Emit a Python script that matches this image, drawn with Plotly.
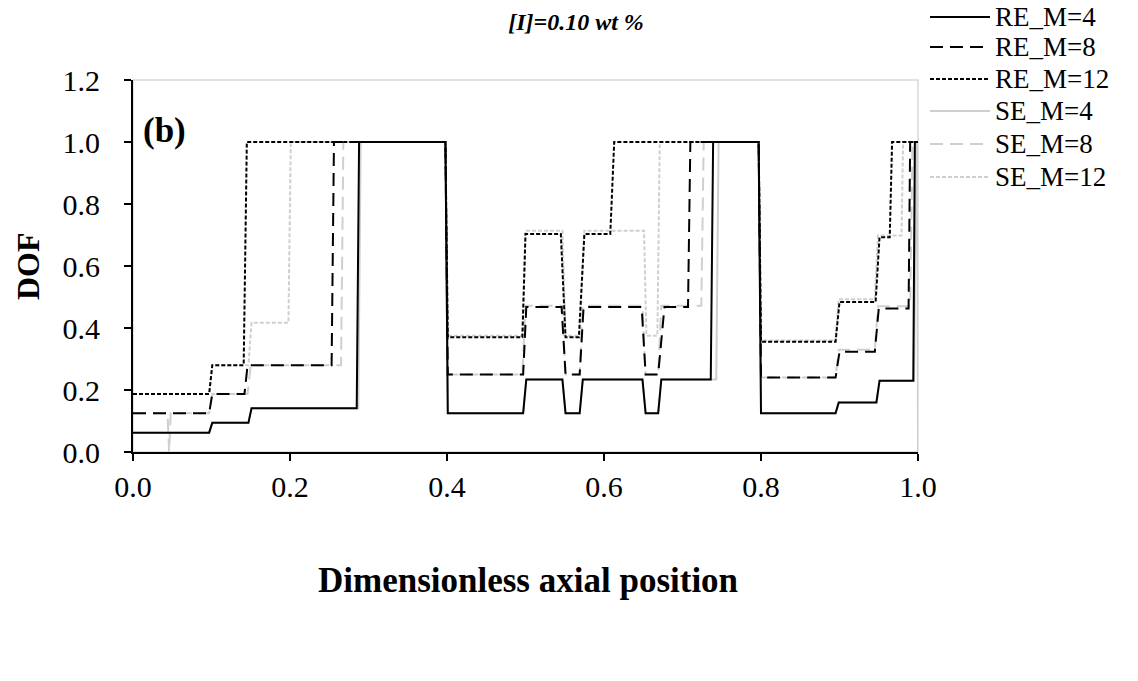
import plotly.graph_objects as go

# ---------------- data ----------------
re4_x = [0, 0.097, 0.101, 0.147, 0.151, 0.285, 0.288, 0.398, 0.401, 0.497, 0.501, 0.547, 0.551, 0.569, 0.573,
         0.649, 0.653, 0.669, 0.673, 0.736, 0.739, 0.797, 0.800, 0.895, 0.899, 0.947, 0.951, 0.994, 0.996, 1.0]
re4_y = [0.0625, 0.0625, 0.094, 0.094, 0.141, 0.141, 1.0, 1.0, 0.125, 0.125, 0.234, 0.234, 0.125, 0.125, 0.234,
         0.234, 0.125, 0.125, 0.234, 0.234, 1.0, 1.0, 0.125, 0.125, 0.16, 0.16, 0.23, 0.23, 1.0, 1.0]

re8_x = [0, 0.097, 0.101, 0.142, 0.146, 0.253, 0.256, 0.398, 0.401, 0.497, 0.501, 0.546, 0.551, 0.569, 0.574,
         0.648, 0.653, 0.669, 0.677, 0.707, 0.710, 0.797, 0.800, 0.895, 0.900, 0.945, 0.950, 0.988, 0.990, 1.0]
re8_y = [0.125, 0.125, 0.1875, 0.1875, 0.28, 0.28, 1.0, 1.0, 0.25, 0.25, 0.4675, 0.4675, 0.25, 0.25, 0.4675,
         0.4675, 0.25, 0.25, 0.4675, 0.4675, 1.0, 1.0, 0.24, 0.24, 0.323, 0.323, 0.463, 0.463, 1.0, 1.0]

re12_x = [0, 0.097, 0.101, 0.141, 0.145, 0.398, 0.401, 0.496, 0.500, 0.545, 0.551, 0.568, 0.575, 0.608, 0.613,
          0.797, 0.800, 0.895, 0.900, 0.946, 0.951, 0.964, 0.967, 0.990, 1.0]
re12_y = [0.1875, 0.1875, 0.28, 0.28, 1.0, 1.0, 0.37, 0.37, 0.703, 0.703, 0.37, 0.37, 0.703, 0.703, 1.0,
          1.0, 0.356, 0.356, 0.484, 0.484, 0.693, 0.693, 1.0, 1.0, 1.0]

se4_x = [0, 0.097, 0.101, 0.147, 0.151, 0.287, 0.290, 0.398, 0.401, 0.497, 0.501, 0.547, 0.551, 0.569, 0.573,
         0.649, 0.653, 0.669, 0.673, 0.743, 0.746, 0.797, 0.800, 0.895, 0.899, 0.947, 0.951, 0.995, 0.998, 0.999, 1.0]
se4_y = [0.0625, 0.0625, 0.094, 0.094, 0.141, 0.141, 1.0, 1.0, 0.125, 0.125, 0.234, 0.234, 0.125, 0.125, 0.234,
         0.234, 0.125, 0.125, 0.234, 0.234, 1.0, 1.0, 0.125, 0.125, 0.16, 0.16, 0.23, 0.23, 1.0, 1.0, 0.0]

se8_x = [0, 0.044, 0.046, 0.048, 0.097, 0.101, 0.146, 0.150, 0.265, 0.268, 0.398, 0.401, 0.496, 0.500, 0.547,
         0.551, 0.569, 0.573, 0.649, 0.653, 0.669, 0.673, 0.724, 0.727, 0.797, 0.800, 0.895, 0.899, 0.945, 0.949,
         0.990, 0.993, 1.0]
se8_y = [0.125, 0.125, 0.0, 0.125, 0.125, 0.1875, 0.1875, 0.28, 0.28, 1.0, 1.0, 0.25, 0.25, 0.472, 0.472,
         0.25, 0.25, 0.472, 0.472, 0.25, 0.25, 0.472, 0.472, 1.0, 1.0, 0.24, 0.24, 0.33, 0.33, 0.47,
         0.47, 1.0, 1.0]

se12_x = [0, 0.097, 0.101, 0.147, 0.151, 0.198, 0.201, 0.398, 0.401, 0.496, 0.500, 0.547, 0.551, 0.569, 0.575,
          0.651, 0.654, 0.668, 0.671, 0.797, 0.800, 0.895, 0.899, 0.945, 0.949, 0.979, 0.981, 1.0]
se12_y = [0.1875, 0.1875, 0.28, 0.28, 0.417, 0.417, 1.0, 1.0, 0.375, 0.375, 0.714, 0.714, 0.375, 0.375, 0.714,
          0.714, 0.375, 0.375, 1.0, 1.0, 0.36, 0.36, 0.493, 0.493, 0.698, 0.698, 1.0, 1.0]

x_ticks = [0.0, 0.2, 0.4, 0.6, 0.8, 1.0]
y_ticks = [0.0, 0.2, 0.4, 0.6, 0.8, 1.0, 1.2]
legend_names = ["RE_M=4", "RE_M=8", "RE_M=12", "SE_M=4", "SE_M=8", "SE_M=12"]

BLACK = "#000000"
GRAY = "#cfcfcf"
LONG = "13px,7px"
SHORT = "4px,2px"

styles = {
    "RE_M=4": (BLACK, "solid"), "RE_M=8": (BLACK, LONG), "RE_M=12": (BLACK, SHORT),
    "SE_M=4": (GRAY, "solid"), "SE_M=8": (GRAY, LONG), "SE_M=12": (GRAY, SHORT),
}
data = {
    "RE_M=4": (re4_x, re4_y), "RE_M=8": (re8_x, re8_y), "RE_M=12": (re12_x, re12_y),
    "SE_M=4": (se4_x, se4_y), "SE_M=8": (se8_x, se8_y), "SE_M=12": (se12_x, se12_y),
}
draw_order = ["SE_M=4", "SE_M=8", "SE_M=12", "RE_M=4", "RE_M=8", "RE_M=12"]

fig = go.Figure()
for name in draw_order:
    xs, ys = data[name]
    col, dash = styles[name]
    fig.add_trace(go.Scatter(x=xs, y=ys, mode="lines", name=name,
                             line=dict(color=col, width=2, dash=dash), showlegend=False))

FONT = "Liberation Serif"
W, H = 1138, 681
L, R, T, B = 133, 220, 80, 229
PW, PH = W - L - R, H - T - B


def px_x(px):
    return (px - L) / PW


def px_y(py):
    return (H - B - py) / PH


fig.update_layout(
    width=W, height=H,
    margin=dict(l=L, r=R, t=T, b=B, autoexpand=False),
    paper_bgcolor="white", plot_bgcolor="white",
    font=dict(family=FONT, color="black", size=22),
    title=dict(text="<b><i>[I]=0.10 wt %</i></b>", x=576 / W, xanchor="center",
               y=1 - 22 / H, yanchor="middle", yref="container",
               font=dict(family=FONT, size=24)),
    showlegend=False,
)
fig.update_xaxes(range=[0, 1.0], tickvals=x_ticks, ticktext=[f"{v:.1f}" for v in x_ticks],
                 showgrid=False, zeroline=False, showline=True, linecolor="black", linewidth=2,
                 ticks="outside", ticklen=7, tickwidth=2, tickcolor="black", ticklabelstandoff=0,
                 tickfont=dict(family=FONT, size=30))
fig.update_yaxes(range=[0, 1.2], tickvals=y_ticks, ticktext=[f"{v:.1f}" for v in y_ticks],
                 showgrid=False, zeroline=False, showline=True, linecolor="black", linewidth=2,
                 ticks="outside", ticklen=7, tickwidth=2, tickcolor="black", ticklabelstandoff=18,
                 tickfont=dict(family=FONT, size=30))
# light gray frame for top / right
fig.add_shape(type="rect", xref="paper", yref="paper", x0=0, y0=0, x1=1, y1=1,
              line=dict(color="#d9d9d9", width=1.5), layer="below")

# manual legend (long line samples as in the reference)
leg_rows = [17, 47, 79, 111, 144, 177]
for name, yrow in zip(legend_names, leg_rows):
    col, dash = styles[name]
    fig.add_shape(type="line", xref="paper", yref="paper",
                  x0=px_x(930), x1=px_x(990), y0=px_y(yrow), y1=px_y(yrow),
                  line=dict(color=col, width=2, dash=dash))
    fig.add_annotation(text=name, xref="paper", yref="paper", x=px_x(993), y=px_y(yrow),
                       xanchor="left", yanchor="middle", showarrow=False,
                       font=dict(family=FONT, size=27))

fig.add_annotation(text="<b>(b)</b>", xref="paper", yref="paper", x=px_x(141), y=px_y(130),
                   xanchor="left", yanchor="middle", showarrow=False,
                   font=dict(family=FONT, size=35))
fig.add_annotation(text="<b>DOF</b>", xref="paper", yref="paper", x=px_x(28), y=px_y(266),
                   xanchor="center", yanchor="middle", textangle=-90, showarrow=False,
                   font=dict(family=FONT, size=32))
fig.add_annotation(text="<b>Dimensionless axial position</b>", xref="paper", yref="paper",
                   x=px_x(528), y=px_y(580), xanchor="center", yanchor="middle", showarrow=False,
                   font=dict(family=FONT, size=35))

fig.write_html("out.html")
